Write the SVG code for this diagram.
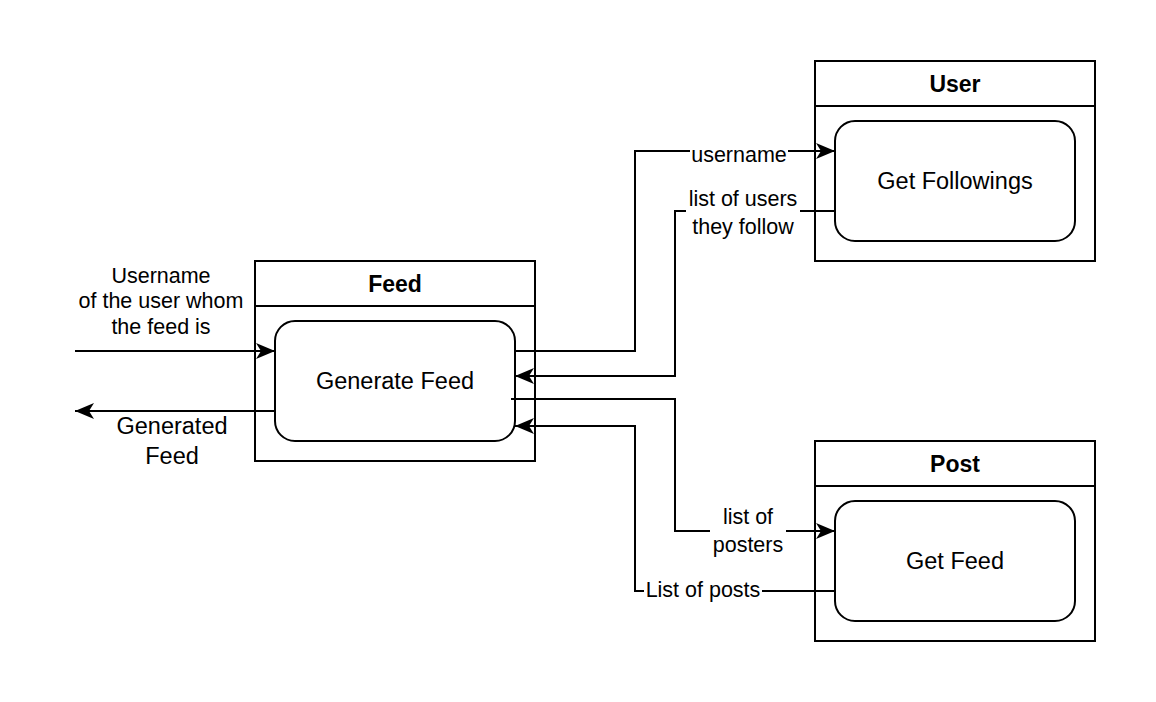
<svg xmlns="http://www.w3.org/2000/svg" width="1156" height="702" viewBox="0 0 1156 702">
<style>
.box{fill:#fff;stroke:#000;stroke-width:2}
.proc{fill:#fff;stroke:#000;stroke-width:2}
.title{font-family:"Liberation Sans",Arial,sans-serif;font-size:23px;font-weight:bold;text-anchor:middle;dominant-baseline:central}
.t{font-family:"Liberation Sans",Arial,sans-serif;font-size:23.5px;text-anchor:middle;dominant-baseline:central}
.lbl{font-family:"Liberation Sans",Arial,sans-serif;font-size:21.5px;text-anchor:middle;dominant-baseline:central}
.edge{fill:none;stroke:#000;stroke-width:2}
.bg{fill:#fff}
</style>
<defs>
<marker id="arr" markerUnits="userSpaceOnUse" markerWidth="20" markerHeight="16" refX="19" refY="8" orient="auto">
<path d="M0,0 L19,8 L0,16 L5,8 z" fill="#000"/>
</marker>
</defs>
<rect width="1156" height="702" fill="#fff"/>
<g id="feed">
<rect class="box" x="255" y="261" width="280" height="200"/>
<line class="box" x1="255" y1="306" x2="535" y2="306"/>
<text class="title" x="395" y="284">Feed</text>
<rect class="proc" x="275" y="321" width="240" height="120" rx="20"/>
<text class="t" x="395" y="381">Generate Feed</text>
</g>
<g id="user">
<rect class="box" x="815" y="61" width="280" height="200"/>
<line class="box" x1="815" y1="106" x2="1095" y2="106"/>
<text class="title" x="955" y="84">User</text>
<rect class="proc" x="835" y="121" width="240" height="120" rx="20"/>
<text class="t" x="955" y="181">Get Followings</text>
</g>
<g id="post">
<rect class="box" x="815" y="441" width="280" height="200"/>
<line class="box" x1="815" y1="486" x2="1095" y2="486"/>
<text class="title" x="955" y="464">Post</text>
<rect class="proc" x="835" y="501" width="240" height="120" rx="20"/>
<text class="t" x="955" y="561">Get Feed</text>
</g>
<g id="connectors">
<path class="edge" d="M75,351 L275,351" marker-end="url(#arr)"/>
<text class="lbl" x="161" y="276">Username</text>
<text class="lbl" x="161" y="301">of the user whom</text>
<text class="lbl" x="161" y="327">the feed is</text>
<path class="edge" d="M275,411 L75,411" marker-end="url(#arr)"/>
<text class="t" x="172" y="426">Generated</text>
<text class="t" x="172" y="456">Feed</text>
<path class="edge" d="M515,351 L635,351 L635,151 L835,151" marker-end="url(#arr)"/>
<rect class="bg" x="690" y="143" width="98" height="22"/>
<text class="lbl" x="739" y="155">username</text>
<path class="edge" d="M835,211 L675,211 L675,376 L515,376" marker-end="url(#arr)"/>
<rect class="bg" x="686" y="186" width="114" height="52"/>
<text class="lbl" x="743" y="199">list of users</text>
<text class="lbl" x="743" y="227">they follow</text>
<path class="edge" d="M511,399 L675,399 L675,531 L835,531" marker-end="url(#arr)"/>
<rect class="bg" x="710" y="504" width="76" height="54"/>
<text class="lbl" x="748" y="517">list of</text>
<text class="lbl" x="748" y="545">posters</text>
<path class="edge" d="M835,591 L635,591 L635,426 L515,426" marker-end="url(#arr)"/>
<rect class="bg" x="644" y="579" width="118" height="24"/>
<text class="lbl" x="703" y="590">List of posts</text>
</g>
</svg>
